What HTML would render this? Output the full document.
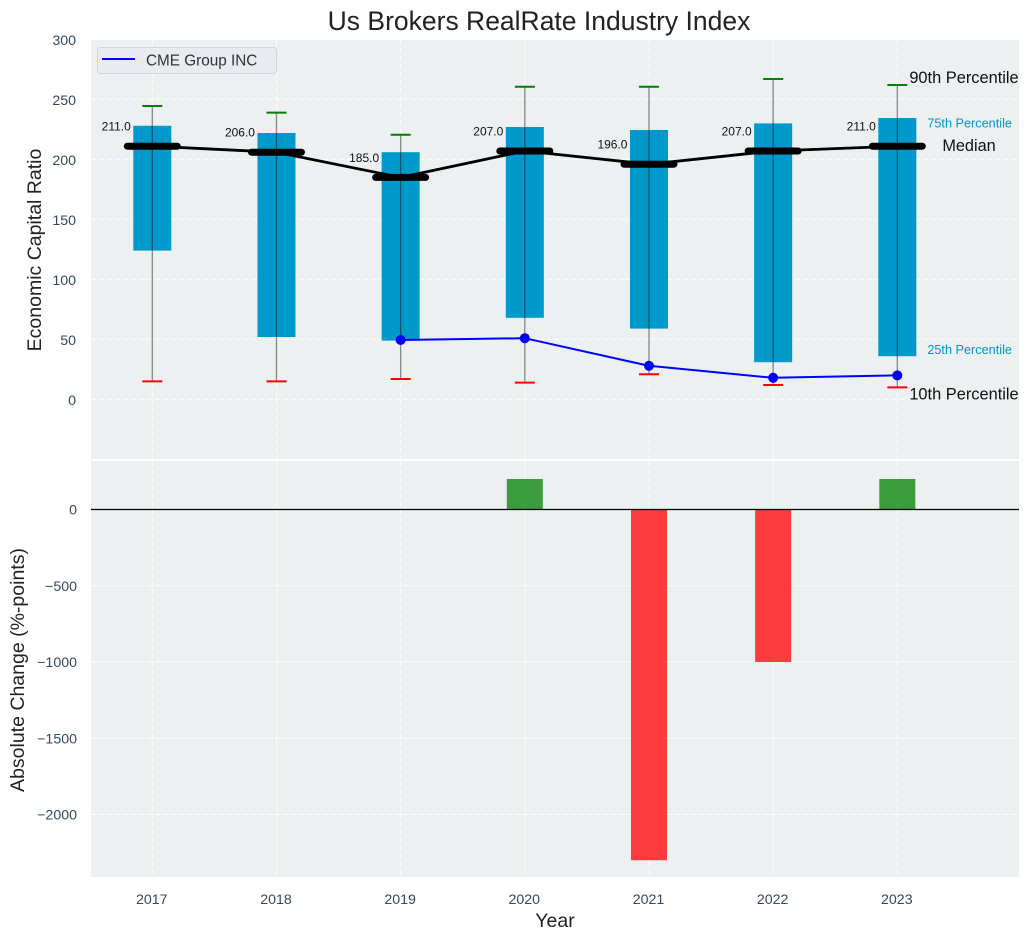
<!DOCTYPE html>
<html>
<head>
<meta charset="utf-8">
<title>Us Brokers RealRate Industry Index</title>
<style>
html,body{margin:0;padding:0;background:#fff;width:1030px;height:940px;overflow:hidden}
svg{display:block;font-family:"Liberation Sans",sans-serif}
</style>
</head>
<body>
<svg id="chart" xmlns="http://www.w3.org/2000/svg" width="1030" height="940" viewBox="0 0 1030 940"></svg>
<script>
const years = [2017, 2018, 2019, 2020, 2021, 2022, 2023];
const p90 = [244.5, 239, 220.5, 260.5, 260.5, 267, 262];
const p75 = [228, 222, 206, 227, 224.5, 230, 234.5];
const median = [211, 206, 185, 207, 196, 207, 211];
const p25 = [124, 52, 49, 68, 59, 31, 36];
const p10 = [15, 15, 17, 14, 21, 12, 10];
const cmeYears = [2019, 2020, 2021, 2022, 2023];
const cmeValues = [49.5, 51, 28, 18, 20];
const changeYears = [2020, 2021, 2022, 2023];
const changeValues = [200, -2300, -1000, 200];
const topTicks = [0, 50, 100, 150, 200, 250, 300];
const bottomTicks = [0, -500, -1000, -1500, -2000];
const bottomTickLabels = ['0', '\u2212500', '\u22121000', '\u22121500', '\u22122000'];

const svg = document.getElementById('chart');
const NS = 'http://www.w3.org/2000/svg';
const plotLeft = 91, plotRight = 1019;
const topPlotTop = 40, topPlotBottom = 459;
const botPlotTop = 461, botPlotBottom = 877;

function xS(year) { return 152.3 + (year - 2017) * 124.17; }
function yTop(v) { return 399.4 - v * 1.2; }
function yBot(v) { return 509.5 - v * 0.1525; }

function mk(tag, attrs, text) {
  const el = document.createElementNS(NS, tag);
  for (const k in attrs) el.setAttribute(k, attrs[k]);
  if (text !== undefined) el.textContent = text;
  svg.appendChild(el);
  return el;
}
function line(x1, y1, x2, y2, stroke, width, extra) {
  return mk('line', Object.assign({ x1: x1, y1: y1, x2: x2, y2: y2, stroke: stroke, 'stroke-width': width }, extra || {}));
}
function label(x, y, str, size, fill, anchor) {
  return mk('text', { x: x, y: y + 1, 'font-size': size, fill: fill, 'text-anchor': anchor || 'start', 'dominant-baseline': 'central' }, str);
}
const tickColor = '#34495e';
const inkColor = '#222222';
const boxColor = '#0099cc';
const gridStyle = { 'stroke-dasharray': '5.5 2.5', 'stroke-opacity': '0.85' };
let el;

/* panels */
el = mk('rect', { x: plotLeft, y: topPlotTop, width: plotRight - plotLeft, height: topPlotBottom - topPlotTop, fill: '#ecf0f1' });


el = mk('rect', { x: plotLeft, y: botPlotTop, width: plotRight - plotLeft, height: botPlotBottom - botPlotTop, fill: '#ecf0f1' });



/* gridlines */
topTicks.forEach(function (t) {
  el = line(plotLeft, yTop(t), plotRight, yTop(t), '#fff', 1, gridStyle);
  
  
});
bottomTicks.forEach(function (t) {
  el = line(plotLeft, yBot(t), plotRight, yBot(t), '#fff', 1, gridStyle);
  
  
});
years.forEach(function (yr) {
  el = line(xS(yr), topPlotTop, xS(yr), topPlotBottom, '#fff', 1, gridStyle);
  
  
  el = line(xS(yr), botPlotTop, xS(yr), botPlotBottom, '#fff', 1, gridStyle);
  
  
});

/* interquartile boxes */
years.forEach(function (yr, i) {
  el = mk('rect', { x: xS(yr) - 19, y: yTop(p75[i]), width: 38, height: yTop(p25[i]) - yTop(p75[i]), fill: boxColor });
  
  
});

/* whiskers and caps */
years.forEach(function (yr, i) {
  el = line(xS(yr), yTop(p90[i]), xS(yr), yTop(p10[i]), '#000', 1.3, { 'stroke-opacity': '0.45' });
  
  
  el = line(xS(yr) - 10, yTop(p90[i]), xS(yr) + 10, yTop(p90[i]), '#008000', 2);
  
  
  el = line(xS(yr) - 10, yTop(p10[i]), xS(yr) + 10, yTop(p10[i]), '#ff0000', 2);
  
  
});

/* median trend line */
el = mk('polyline', {
  points: years.map(function (yr, i) { return xS(yr) + ',' + yTop(median[i]); }).join(' '),
  fill: 'none', stroke: '#000', 'stroke-width': 2.8, 'stroke-linejoin': 'round'
});


years.forEach(function (yr, i) {
  el = line(xS(yr) - 25, yTop(median[i]), xS(yr) + 25, yTop(median[i]), '#000', 7, { 'stroke-linecap': 'round' });
  
  
  el = label(xS(yr) - 21.5, yTop(median[i]) - 20.5, median[i].toFixed(1), 12, '#111', 'end');
  
  
});

/* company series */
el = mk('polyline', {
  points: cmeYears.map(function (yr, i) { return xS(yr) + ',' + yTop(cmeValues[i]); }).join(' '),
  fill: 'none', stroke: '#0000ff', 'stroke-width': 2
});


cmeYears.forEach(function (yr, i) {
  el = mk('circle', { cx: xS(yr), cy: yTop(cmeValues[i]), r: 5, fill: '#0000ff' });
  
  
});

/* percentile annotations anchored on the last year */
const last = years.length - 1;
const lastX = xS(years[last]);
el = label(lastX + 12, yTop(p90[last]) - 8, '90th Percentile', 16.4, '#111');


el = label(lastX + 30, yTop(p75[last]) + 4.6, '75th Percentile', 12.7, boxColor);


el = label(lastX + 45, yTop(median[last]) - 1, 'Median', 16.3, '#111');


el = label(lastX + 30, yTop(p25[last]) - 7.4, '25th Percentile', 12.7, boxColor);


el = label(lastX + 12, yTop(p10[last]) + 6, '10th Percentile', 16.4, '#111');



/* change bars */
changeYears.forEach(function (yr, i) {
  const v = changeValues[i];
  const y0 = yBot(Math.max(v, 0));
  const y1 = yBot(Math.min(v, 0));
  el = mk('rect', { x: xS(yr) - 18, y: y0, width: 36, height: y1 - y0, fill: v >= 0 ? '#008000' : '#ff0000', 'fill-opacity': '0.75' });
  
  
});
el = line(plotLeft, yBot(0), plotRight, yBot(0), '#000', 1.2);



/* tick labels */
topTicks.forEach(function (t) {
  el = label(76, yTop(t) + 0.6, String(t), 14.2, tickColor, 'end');
  
  
});
bottomTicks.forEach(function (t, i) {
  el = label(77, yBot(t), bottomTickLabels[i], 14.2, tickColor, 'end');
  
  
});
years.forEach(function (yr) {
  el = label(xS(yr) - 0.5, 899, String(yr), 14.2, tickColor, 'middle');
  
  
});

/* titles */
el = label(539, 20, 'Us Brokers RealRate Industry Index', 26.5, inkColor, 'middle');


el = label(555, 920, 'Year', 19.5, inkColor, 'middle');


el = label(0, 0, 'Economic Capital Ratio', 19.5, inkColor, 'middle');
el.setAttribute('transform', 'translate(34,250) rotate(-90)');


el = label(0, 0, 'Absolute Change (%-points)', 19.5, inkColor, 'middle');
el.setAttribute('transform', 'translate(17,670) rotate(-90)');



/* legend */
el = mk('rect', { x: 97.5, y: 47.5, width: 179, height: 26, rx: 3, fill: '#e9ebf0', stroke: '#d2d4da', 'stroke-width': 1 });


el = line(102, 59, 135, 59, '#0000ff', 1.9);


el = label(146, 60, 'CME Group INC', 15.3, '#333');


</script>
</body>
</html>
